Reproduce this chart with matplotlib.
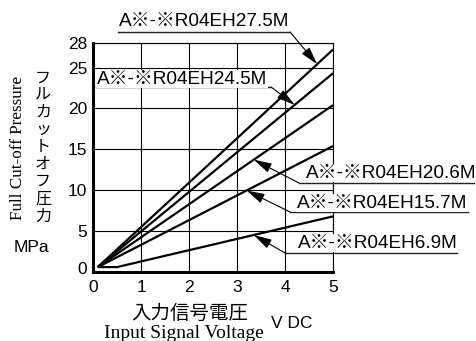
import numpy as np
import matplotlib
matplotlib.use('Agg')
import matplotlib.pyplot as plt
from matplotlib.lines import Line2D
from matplotlib.transforms import ScaledTranslation

# ---- data ----
model_labels = ['A※-※R04EH27.5M', 'A※-※R04EH24.5M', 'A※-※R04EH20.6M',
                'A※-※R04EH15.7M', 'A※-※R04EH6.9M']
v_275 = [0.1, 5.0]
p_275 = [0.6, 27.2]
v_245 = [0.1, 5.0]
p_245 = [0.6, 24.3]
v_206 = [0.1, 5.0]
p_206 = [0.6, 20.4]
v_157 = [0.1, 5.0]
p_157 = [0.6, 15.4]
v_69 = [0.1, 0.5, 5.0]
p_69 = [0.6, 0.6, 6.8]
x_ticks = [0, 1, 2, 3, 4, 5]
y_ticks = [0, 5, 10, 15, 20, 25, 28]

W, H = 476, 341
fig = plt.figure(figsize=(W / 100, H / 100), dpi=100)
ax = fig.add_axes([93 / W, 1 - 272 / H, 240 / W, 229 / H])

sans = ['Liberation Sans', 'Noto Sans CJK JP', 'DejaVu Sans']
serif = ['Liberation Serif', 'DejaVu Serif']
cjk = ['Noto Sans CJK JP', 'DejaVu Sans']

series = [(v_275, p_275), (v_245, p_245), (v_206, p_206), (v_157, p_157), (v_69, p_69)]
for v, p in series:
    ax.plot(v, p, color='black', lw=1.6, solid_capstyle='butt', zorder=3)

ax.set_xlim(0, 5)
ax.set_ylim(0, 28)
ax.set_xticks(x_ticks)
ax.set_yticks(y_ticks)
ax.set_xticklabels([str(t) for t in x_ticks], fontfamily=sans, fontsize=12.5)
ax.set_yticklabels([str(t) for t in y_ticks], fontfamily=sans, fontsize=12.5)
ax.tick_params(length=0)
ax.tick_params(axis='x', pad=6)
ax.tick_params(axis='y', pad=4)
ax.grid(True, color='black', lw=0.8)
ax.set_axisbelow(True)
for s in ['left', 'bottom']:
    ax.spines[s].set_linewidth(2.2)
for s in ['top', 'right']:
    ax.spines[s].set_linewidth(0.8)

# lift the "0" y tick label a little
for lab, t in zip(ax.get_yticklabels(), y_ticks):
    if t == 0:
        lab.set_transform(lab.get_transform() + ScaledTranslation(0, 4 / 100, fig.dpi_scale_trans))


def fx(x):
    return x / W


def fy(y):
    return 1 - y / H


# axis titles
fig.text(fx(18), fy(148), 'Full Cut-off Pressure', rotation=90, ha='center', va='center',
         fontfamily=serif, fontsize=12.3)
fig.text(fx(43), fy(147), '\n'.join('フルカットオフ圧力'), ha='center', va='center',
         multialignment='center', fontfamily=cjk, fontsize=11.5, linespacing=1.02)
fig.text(fx(31), fy(247), 'MPa', ha='center', va='center', fontfamily=sans, fontsize=12.5)
fig.text(fx(190), fy(313), '入力信号電圧', ha='center', va='center', fontfamily=cjk, fontsize=14)
fig.text(fx(184), fy(333), 'Input Signal Voltage', ha='center', va='center',
         fontfamily=serif, fontsize=14)
fig.text(fx(292), fy(323), 'V DC', ha='center', va='center', fontfamily=sans, fontsize=12.5)

# model labels: (text left, text center y, underline x0, underline x1, underline y,
#                leader start x, leader tip voltage)
label_layout = [
    (119, 22, 118, 290, 32, 290, 4.67),
    (97, 79, 96, 271, 87, 271, 4.2),
    (306, 173, 299, 474, 183, 299, 3.35),
    (297, 203, 290, 468, 212, 290, 3.2),
    (298, 243, 285, 457, 253, 285, 3.35),
]
for (v, p), text, (tx, ty, ux0, ux1, uy, lx, tipv) in zip(series, model_labels, label_layout):
    fig.text(fx(tx), fy(ty), text, ha='left', va='center', fontfamily=sans, fontsize=13.7,
             bbox=dict(facecolor='white', edgecolor='none', pad=0.5), zorder=5)
    fig.add_artist(Line2D([fx(ux0), fx(ux1)], [fy(uy), fy(uy)], transform=fig.transFigure,
                          color='#222222', lw=1.0, zorder=5))
    tipp = float(np.interp(tipv, v, p))
    ax.annotate('', xy=(tipv, tipp), xycoords='data',
                xytext=(lx, H - uy), textcoords='figure pixels',
                arrowprops=dict(arrowstyle='-|>,head_length=1.1,head_width=0.3', lw=0.8,
                                color='black', shrinkA=0, shrinkB=0),
                annotation_clip=False, zorder=6)

fig.savefig('out.png', dpi=100)
